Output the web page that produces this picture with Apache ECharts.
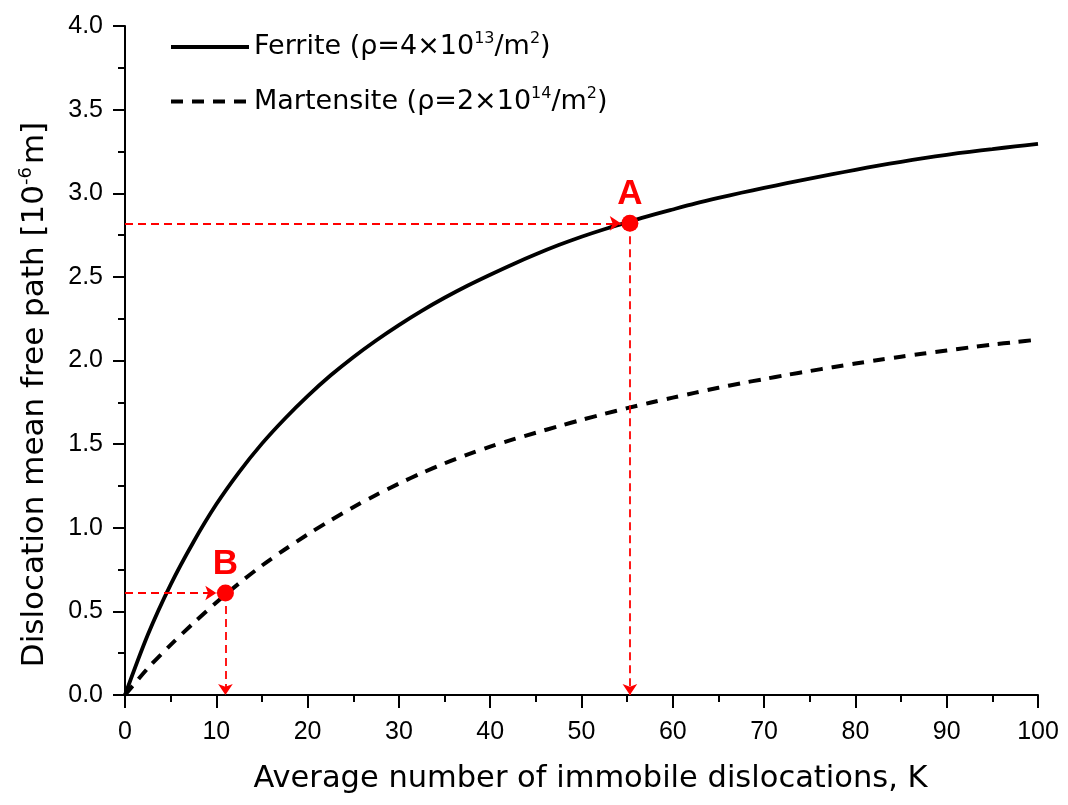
<!DOCTYPE html>
<html>
<head>
<meta charset="utf-8">
<script src="https://cdn.jsdelivr.net/npm/echarts@6/dist/echarts.min.js"></script>
<style>
html,body{margin:0;padding:0;background:#fff;}
#chart{width:1068px;height:805px;}
</style>
</head>
<body>
<div id="chart"></div>
<script>
// ---- data ----
var kValues = [0, 2.5, 5, 7.5, 10, 12.5, 15, 17.5, 20, 22.5, 25, 27.5, 30, 32.5, 35, 37.5, 40, 42.5, 45, 47.5, 50,
               52.5, 55, 57.5, 60, 62.5, 65, 67.5, 70, 72.5, 75, 77.5, 80, 82.5, 85, 87.5, 90, 92.5, 95, 97.5, 100];
var ferrite = [0, 0.36, 0.66, 0.915, 1.14, 1.333, 1.503, 1.652, 1.787, 1.91, 2.02, 2.12, 2.212, 2.297, 2.375, 2.447, 2.513, 2.576, 2.635, 2.69, 2.74,
               2.785, 2.826, 2.866, 2.903, 2.939, 2.972, 3.003, 3.032, 3.06, 3.087, 3.114, 3.14, 3.165, 3.188, 3.21, 3.23, 3.248, 3.264, 3.28, 3.295];
var martensite = [0, 0.16, 0.30, 0.43, 0.553, 0.668, 0.774, 0.87, 0.96, 1.044, 1.123, 1.196, 1.264, 1.327, 1.385, 1.437, 1.485, 1.528, 1.568, 1.607, 1.645,
                  1.681, 1.715, 1.747, 1.778, 1.808, 1.837, 1.864, 1.889, 1.914, 1.937, 1.96, 1.982, 2.003, 2.023, 2.042, 2.06, 2.078, 2.095, 2.11, 2.125];
var seriesNames = ['Ferrite', 'Martensite'];
var legendTexts = {
  'Ferrite': '{t|Ferrite (\u03C1=4\u00D710}{s|13}{t|/m}{s|2}{t|)}',
  'Martensite': '{t|Martensite (\u03C1=2\u00D710}{s|14}{t|/m}{s|2}{t|)}'
};
var pointLabels = ['A', 'B'];
var pointK = [55.3, 11.0];
var pointV = [2.82, 0.61];
var arrowTipK = [54.3, 10.0];   // where the horizontal arrows stop (left edge of dot)
var xTicks = {min: 0, max: 100, interval: 10};
var yTicks = {min: 0, max: 4, interval: 0.5};
var xTitle = 'Average number of immobile dislocations, K';
var yTitle = '{t|Dislocation mean free path [10}{s|-6}{t|m]}';

function pairs(xs, ys) { return xs.map(function (x, i) { return [x, ys[i]]; }); }

var markLines = [];
for (var i = 0; i < pointLabels.length; i++) {
  markLines.push([{coord: [0, pointV[i]]}, {coord: [arrowTipK[i], pointV[i]]}]);
  markLines.push([{coord: [pointK[i], pointV[i]]}, {coord: [pointK[i], 0]}]);
}

var axisColor = '#000';
var chart = echarts.init(document.getElementById('chart'), null, {renderer: 'canvas'});
chart.setOption({
  animation: false,
  backgroundColor: '#fff',
  grid: {left: 125, right: 30, top: 26, bottom: 110, containLabel: false},
  legend: {
    data: seriesNames,
    orient: 'vertical',
    left: 164,
    top: 26,
    itemWidth: 78,
    itemHeight: 14,
    itemGap: 25,
    itemStyle: {opacity: 0},
    lineStyle: {width: 4},
    formatter: function (name) { return legendTexts[name]; },
    textStyle: {
      color: '#000',
      padding: [0, 0, 0, 0],
      rich: {
        t: {fontFamily: 'DejaVu Sans', fontSize: 27, color: '#000', lineHeight: 32},
        s: {fontFamily: 'DejaVu Sans', fontSize: 16, color: '#000', lineHeight: 32, verticalAlign: 'top', padding: [0, 0, 10, 0]}
      }
    }
  },
  xAxis: {
    type: 'value',
    min: xTicks.min, max: xTicks.max, interval: xTicks.interval,
    name: xTitle,
    nameLocation: 'middle',
    nameGap: 69,
    nameTextStyle: {fontFamily: 'DejaVu Sans', fontSize: 30.5, color: '#000', padding: [0, 0, 0, 18]},
    axisLine: {show: true, onZero: false, lineStyle: {color: axisColor, width: 2}},
    axisTick: {show: true, inside: false, length: 13, lineStyle: {color: axisColor, width: 2}},
    minorTick: {show: true, splitNumber: 2, length: 7, lineStyle: {color: axisColor, width: 2}},
    splitLine: {show: false},
    minorSplitLine: {show: false},
    axisLabel: {margin: 25, fontFamily: 'Liberation Sans', fontSize: 25, color: '#000'}
  },
  yAxis: {
    type: 'value',
    min: yTicks.min, max: yTicks.max, interval: yTicks.interval,
    name: yTitle,
    nameLocation: 'middle',
    nameGap: 72,
    nameTextStyle: {
      padding: [0, 68, 0, 0],
      rich: {
        t: {fontFamily: 'DejaVu Sans', fontSize: 31, color: '#000', lineHeight: 36},
        s: {fontFamily: 'DejaVu Sans', fontSize: 18, color: '#000', lineHeight: 36, verticalAlign: 'top', padding: [0, 3, 12, 0]}
      }
    },
    axisLine: {show: true, onZero: false, lineStyle: {color: axisColor, width: 2}},
    axisTick: {show: true, inside: false, length: 12, lineStyle: {color: axisColor, width: 2}},
    minorTick: {show: true, splitNumber: 2, length: 7, lineStyle: {color: axisColor, width: 2}},
    splitLine: {show: false},
    minorSplitLine: {show: false},
    axisLabel: {
      margin: 22, fontFamily: 'Liberation Sans', fontSize: 25, color: '#000',
      formatter: function (v) { return v.toFixed(1); }
    }
  },
  series: [
    {
      name: seriesNames[0],
      type: 'line',
      data: pairs(kValues, ferrite),
      smooth: 0.3,
      symbol: 'none',
      showSymbol: false,
      lineStyle: {color: '#000', width: 3.8, type: 'solid'},
      itemStyle: {color: '#000'},
      z: 3
    },
    {
      name: seriesNames[1],
      type: 'line',
      data: pairs(kValues, martensite),
      smooth: 0.3,
      symbol: 'none',
      showSymbol: false,
      lineStyle: {color: '#000', width: 4, type: [12, 9]},
      itemStyle: {color: '#000'},
      z: 3
    },
    {
      name: 'points',
      type: 'scatter',
      data: pointLabels.map(function (lab, i) { return {name: lab, value: [pointK[i], pointV[i]]}; }),
      symbol: 'circle',
      symbolSize: 17,
      itemStyle: {color: '#ff0000', opacity: 1},
      label: {
        show: true, position: 'top', distance: 3,
        formatter: '{b}',
        fontFamily: 'Liberation Sans', fontWeight: 'bold', fontSize: 35, color: '#ff0000'
      },
      z: 5,
      markLine: {
        silent: true,
        symbol: ['none', 'arrow'],
        symbolSize: 11,
        label: {show: false},
        lineStyle: {color: '#ff0000', width: 1.8, type: [8, 5]},
        emphasis: {disabled: true},
        data: markLines
      }
    }
  ]
});
</script>
</body>
</html>
